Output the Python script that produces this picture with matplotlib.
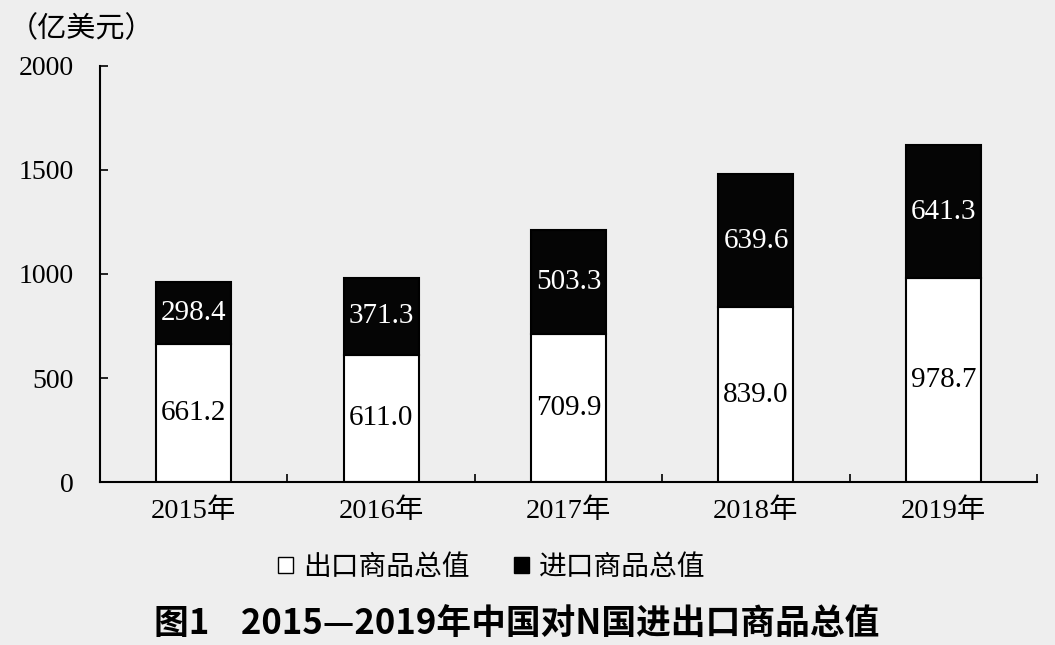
import matplotlib
matplotlib.use("Agg")
import matplotlib.pyplot as plt
from matplotlib.patches import Patch
import numpy as np

years = ["2015年", "2016年", "2017年", "2018年", "2019年"]
export_vals = [661.2, 611.0, 709.9, 839.0, 978.7]
import_vals = [298.4, 371.3, 503.3, 639.6, 641.3]
yticks = [0, 500, 1000, 1500, 2000]
legend_labels = ["出口商品总值", "进口商品总值"]
unit_label = "（亿美元）"
title = "图1    2015—2019年中国对N国进出口商品总值"

SERIF = ["Liberation Serif", "Noto Sans CJK SC"]
SANS = ["Noto Sans CJK SC", "DejaVu Sans"]
BG = "#eeeeee"

fig = plt.figure(figsize=(10.55, 6.45), dpi=100, facecolor=BG)
ax = fig.add_axes([0.0948, 0.2527, 0.8882, 0.645])
ax.set_facecolor(BG)

x = np.arange(len(years))
w = 0.4
ax.bar(x, export_vals, width=w, color="white", edgecolor="black", linewidth=1.5, zorder=2)
ax.bar(x, import_vals, width=w, bottom=export_vals, color="#050505", edgecolor="black",
       linewidth=1.5, zorder=2)

for xi, e, i in zip(x, export_vals, import_vals):
    ax.text(xi, e / 2, f"{e:.1f}", ha="center", va="center", fontsize=21,
            family=SERIF, color="black", zorder=3)
    ax.text(xi, e + i / 2, f"{i:.1f}", ha="center", va="center", fontsize=21,
            family=SERIF, color="white", zorder=3)

ax.set_xlim(-0.5, len(years) - 0.5)
ax.set_ylim(0, 2000)

for s in ["top", "right"]:
    ax.spines[s].set_visible(False)
for s in ["left", "bottom"]:
    ax.spines[s].set_linewidth(1.5)

ax.set_yticks(yticks)
ax.set_yticklabels([str(v) for v in yticks], family=SERIF, fontsize=20)
ax.tick_params(axis="y", direction="in", length=6, width=1.2, pad=19)

ax.set_xticks(np.arange(-0.5, len(years), 1.0))
ax.set_xticklabels([])
ax.tick_params(axis="x", which="major", direction="in", length=6, width=1.2)
ax.set_xticks(x, minor=True)
ax.set_xticklabels(years, minor=True, family=SERIF, fontsize=20.5)
ax.tick_params(axis="x", which="minor", length=0, pad=12)

fig.text(0.008, 0.955, unit_label, family=SANS, fontsize=21, ha="left", va="center")

handles = [Patch(facecolor="white", edgecolor="black", linewidth=1.0),
           Patch(facecolor="black", edgecolor="black", linewidth=1.0)]
fig.legend(handles, legend_labels, loc="center", bbox_to_anchor=(0.466, 0.121), ncol=2,
           frameon=False, prop={"family": SANS, "size": 20}, handlelength=0.55,
           handleheight=0.55, handletextpad=0.35, columnspacing=1.6)

fig.text(0.49, 0.033, title, family=SANS, fontsize=25, fontweight="bold",
         ha="center", va="center")

fig.savefig("out.png", dpi=100, facecolor=BG)
